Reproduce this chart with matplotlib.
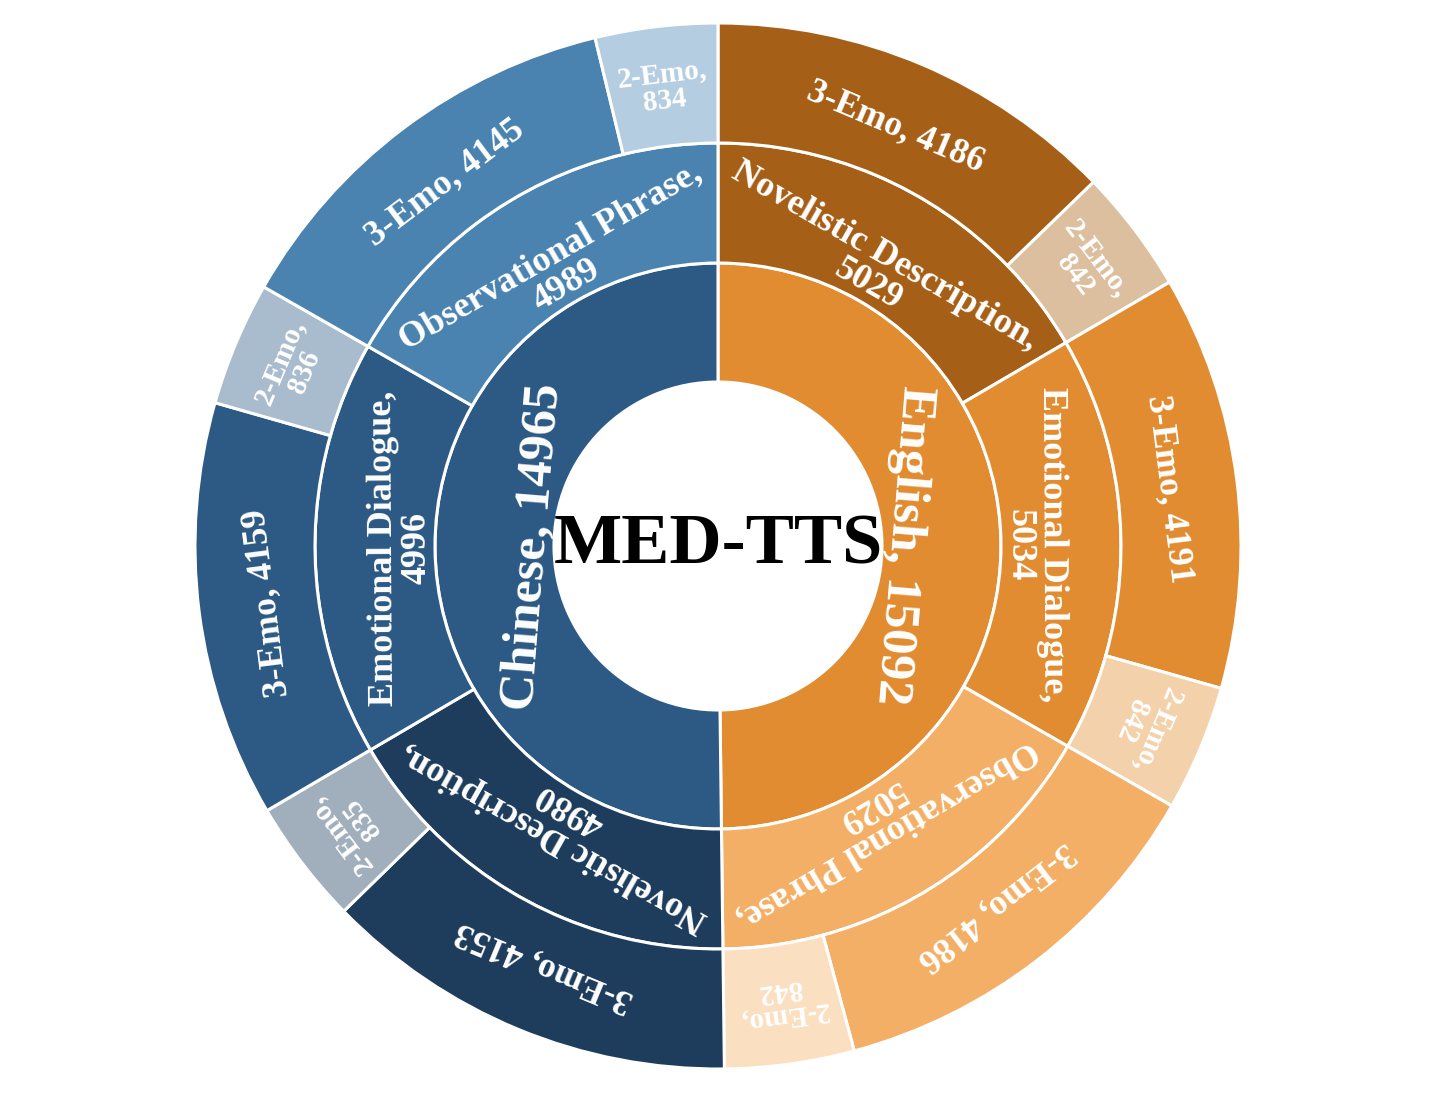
import numpy as np
import matplotlib.pyplot as plt

plt.rcParams['font.family'] = ['Liberation Serif', 'DejaVu Serif']
plt.rcParams['font.weight'] = 'bold'

# inner ring : languages
lang_names = ["English", "Chinese"]
lang_counts = [15092, 14965]
lang_colors = ["#E28C32", "#2C5A84"]

# middle ring : text types (3 per language)
type_names = ["Novelistic Description", "Emotional Dialogue", "Observational Phrase",
              "Novelistic Description", "Emotional Dialogue", "Observational Phrase"]
type_counts = [5029, 5034, 5029, 4980, 4996, 4989]
type_colors = ["#A65F17", "#E28C32", "#F3AF66", "#1E3D5C", "#2C5A84", "#4A82B0"]

# outer ring : emotion mixes (3-Emo / 2-Emo per text type)
emo_names = ["3-Emo", "2-Emo"] * 6
emo_counts = [4186, 842, 4191, 842, 4186, 842, 4153, 835, 4159, 836, 4145, 834]
emo_colors = ["#A65F17", "#DBBF9F", "#E28C32", "#F3D2AB", "#F3AF66", "#FADFC0",
              "#1E3D5C", "#A1AFBD", "#2C5A84", "#A9BCCD", "#4A82B0", "#B5CDE1"]
# arc of each leaf in the original figure (degrees) - not proportional to the counts,
# the 2-Emo slices were drawn wider there
emo_arcs = [45.9, 13.8, 46.1, 14.0, 45.1, 14.4, 46.4, 13.9, 46.3, 13.8, 46.7, 13.6]

type_arcs = np.array(emo_arcs).reshape(6, 2).sum(axis=1)
lang_arcs = type_arcs.reshape(2, 3).sum(axis=1)

fig = plt.figure(figsize=(14.35, 10.93), dpi=100)
ax = fig.add_axes([0, 0, 1, 1])

r_hole, r1, r2, r3 = 164, 283, 403, 523
wp = dict(edgecolor="white", linewidth=2.2)

ax.pie(lang_arcs, radius=r1, colors=lang_colors, startangle=90, counterclock=False,
       wedgeprops=dict(width=r1 - r_hole, **wp))
ax.pie(type_arcs, radius=r2, colors=type_colors, startangle=90, counterclock=False,
       wedgeprops=dict(width=r2 - r1, **wp))
ax.pie(emo_arcs, radius=r3, colors=emo_colors, startangle=90, counterclock=False,
       wedgeprops=dict(width=r3 - r2, **wp))


def put_labels(arcs, texts, radii, sizes, tilt=0):
    total = sum(arcs)
    cum = 0
    for a, t, rr, fs in zip(arcs, texts, radii, sizes):
        theta = 90 - (cum + a / 2) / total * 360
        cum += a
        th = np.deg2rad(theta)
        ax.text(rr * np.cos(th), rr * np.sin(th), t, rotation=theta - 90 + tilt,
                rotation_mode="anchor", ha="center", va="center",
                multialignment="center", color="white", fontsize=fs,
                fontweight="bold", linespacing=1.0)


lang_texts = [f"{n}, {c}" for n, c in zip(lang_names, lang_counts)]
put_labels(lang_arcs, lang_texts, [185] * 2, [37] * 2, tilt=-5)

type_texts = [f"{n},\n{c}" for n, c in zip(type_names, type_counts)]
put_labels(type_arcs, type_texts, [318] * 6, [26] * 6)

emo_texts = [f"{n}, {c}" if n == "3-Emo" else f"{n},\n{c}" for n, c in zip(emo_names, emo_counts)]
put_labels(emo_arcs, emo_texts,
           [455 if n == "3-Emo" else 462 for n in emo_names],
           [25.5 if n == "3-Emo" else 21 for n in emo_names])

ax.text(0, 0, "MED-TTS", ha="center", va="center", fontsize=52, fontweight="bold", color="black")

ax.set_xlim(-718, 1435 - 718)
ax.set_ylim(-(1093 - 546), 546)
ax.set_aspect("equal")
ax.axis("off")

plt.savefig("out.png", dpi=100)
